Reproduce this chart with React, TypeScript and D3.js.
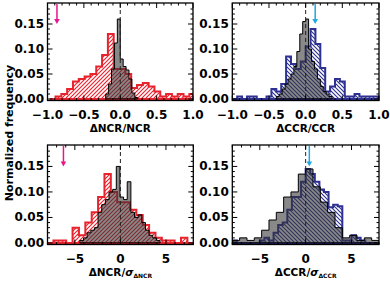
import React, { useEffect, useRef } from "react";
import * as d3 from "d3";

const W = 390;
const H = 281;

// ---- data: normalized frequency per bin ----
// top-left: dNCR/NCR
const ncrRelRedStart = -0.97;
const ncrRelRedWidth = 0.08;
const ncrRelRed = [0, 0.005, 0.01, 0.02, 0.035, 0.04, 0.045, 0.05, 0.065, 0.088, 0.13, 0.06, 0.06, 0.05, 0.022, 0.028, 0.032, 0.025, 0.015, 0.005, 0.01, 0.005, 0.01, 0.005, 0.01];
const ncrRelGrayStart = -0.2;
const ncrRelGrayWidth = 0.04;
const ncrRelGray = [0.01, 0.03, 0.06, 0.112, 0.16, 0.08, 0.065, 0.058, 0.04, 0.012, 0.003];

// top-right: dCCR/CCR
const ccrRelBlueStart = -1;
const ccrRelBlueWidth = 1 / 15;
const ccrRelBlue = [0, 0.005, 0, 0.005, 0.005, 0, 0, 0.005, 0.02, 0.015, 0.03, 0.085, 0.07, 0.06, 0.075, 0.105, 0.14, 0.11, 0.062, 0.015, 0.025, 0.04, 0.035, 0.005, 0.005, 0.01, 0.005, 0.005, 0.005, 0.005];
const ccrRelGrayStart = -0.4;
const ccrRelGrayWidth = 0.04;
const ccrRelGray = [0.005, 0.01, 0.02, 0.03, 0.04, 0.05, 0.065, 0.095, 0.13, 0.155, 0.16, 0.1, 0.075, 0.06, 0.04, 0.025, 0.015, 0.01, 0.005];

// bottom-left: dNCR/sigma
const ncrSigRedStart = -8.05;
const ncrSigRedWidth = 0.7;
const ncrSigRed = [0, 0.005, 0.005, 0, 0.03, 0.015, 0.04, 0.06, 0.09, 0.135, 0.1, 0.08, 0.08, 0.065, 0.055, 0.035, 0.02, 0.01, 0.005, 0.005, 0, 0.01, 0];
const ncrSigGrayStart = -4.45;
const ncrSigGrayWidth = 0.4;
const ncrSigGray = [0.005, 0.01, 0.02, 0.025, 0.03, 0.06, 0.075, 0.085, 0.1, 0.105, 0.15, 0.09, 0.085, 0.12, 0.06, 0.05, 0.055, 0.04, 0.025, 0.015, 0.01, 0.005];

// bottom-right: dCCR/sigma
const ccrSigBlueStart = -8;
const ccrSigBlueWidth = 0.5;
const ccrSigBlue = [0.005, 0, 0, 0, 0, 0, 0.005, 0.01, 0.005, 0.02, 0.035, 0.04, 0.065, 0.09, 0.09, 0.12, 0.145, 0.135, 0.12, 0.105, 0.1, 0.07, 0.075, 0.072, 0.005, 0.005, 0.015, 0.01, 0.005, 0, 0, 0];
const ccrSigGrayStart = -8;
const ccrSigGrayWidth = 0.8;
const ccrSigGray = [0.005, 0.01, 0.005, 0.01, 0.025, 0.045, 0.06, 0.09, 0.1, 0.135, 0.145, 0.11, 0.08, 0.06, 0.03, 0.01, 0.015, 0.005, 0.01, 0.005];

// arrows (x position of marker)
const arrowX = [-0.87, 0.13, -6.25, 0.4];

const relTicks = [-1, -0.5, 0, 0.5, 1];
const sigTicks = [-5, 0, 5];
const yTicks = [0, 0.05, 0.1, 0.15];

const RED = "#e8232d";
const BLUE = "#2e3192";
const MAGENTA = "#e8168c";
const CYAN = "#1fa9e1";
const FONT = "'DejaVu Sans', sans-serif";

const bins = (start: number, width: number, vals: number[]) => {
  const pts = vals.map((v, i) => [start + i * width, v] as [number, number]);
  pts.push([start + vals.length * width, vals[vals.length - 1]]);
  return pts;
};

const panels = [
  { left: 47.5, right: 193, top: 3, bottom: 100.5, xDomain: [-1, 1], ticks: relTicks, minor: 0.1, fmt: d3.format(".1f"),
    color: RED, col: bins(ncrRelRedStart, ncrRelRedWidth, ncrRelRed), gray: bins(ncrRelGrayStart, ncrRelGrayWidth, ncrRelGray),
    arrow: arrowX[0], arrowColor: MAGENTA, title: "ΔNCR/NCR", sub: null },
  { left: 232.3, right: 379, top: 3, bottom: 100.5, xDomain: [-1, 1], ticks: relTicks, minor: 0.1, fmt: d3.format(".1f"),
    color: BLUE, col: bins(ccrRelBlueStart, ccrRelBlueWidth, ccrRelBlue), gray: bins(ccrRelGrayStart, ccrRelGrayWidth, ccrRelGray),
    arrow: arrowX[1], arrowColor: CYAN, title: "ΔCCR/CCR", sub: null },
  { left: 47.5, right: 193.3, top: 145, bottom: 244.5, xDomain: [-8, 8], ticks: sigTicks, minor: 1, fmt: d3.format("d"),
    color: RED, col: bins(ncrSigRedStart, ncrSigRedWidth, ncrSigRed), gray: bins(ncrSigGrayStart, ncrSigGrayWidth, ncrSigGray),
    arrow: arrowX[2], arrowColor: MAGENTA, title: "ΔNCR/", sub: "ΔNCR" },
  { left: 232.3, right: 379, top: 145, bottom: 244.5, xDomain: [-8, 8], ticks: sigTicks, minor: 1, fmt: d3.format("d"),
    color: BLUE, col: bins(ccrSigBlueStart, ccrSigBlueWidth, ccrSigBlue), gray: bins(ccrSigGrayStart, ccrSigGrayWidth, ccrSigGray),
    arrow: arrowX[3], arrowColor: CYAN, title: "ΔCCR/", sub: "ΔCCR" },
];

export default function App() {
  const ref = useRef<SVGSVGElement>(null);

  useEffect(() => {
    const svg = d3.select(ref.current);
    svg.selectAll("*").remove();
    const defs = svg.append("defs");

    // hatch patterns
    [["hatch-red", RED, "/"], ["hatch-blue", BLUE, "\\"]].forEach(([id, c, dir]) => {
      const pat = defs.append("pattern").attr("id", id).attr("patternUnits", "userSpaceOnUse")
        .attr("width", 4).attr("height", 4);
      pat.append("path")
        .attr("d", dir === "/" ? "M-1,1 l2,-2 M0,4 l4,-4 M3,5 l2,-2" : "M-1,3 l2,2 M0,0 l4,4 M3,-1 l2,2")
        .attr("stroke", c).attr("stroke-width", 1.15).attr("fill", "none");
    });

    panels.forEach((p, i) => {
      const x = d3.scaleLinear().domain(p.xDomain).range([p.left, p.right]);
      const y = d3.scaleLinear().domain([-0.003, 0.192]).range([p.bottom, p.top]);
      const g = svg.append("g");

      defs.append("clipPath").attr("id", `clip-${i}`).append("rect")
        .attr("x", p.left).attr("y", p.top).attr("width", p.right - p.left).attr("height", p.bottom - p.top);
      const hg = g.append("g").attr("clip-path", `url(#clip-${i})`);

      const area = d3.area<[number, number]>()
        .x((d) => x(d[0])).y0(y(0)).y1((d) => y(d[1])).curve(d3.curveStepAfter);

      // hatched colored histogram
      hg.append("path").attr("d", area(p.col))
        .attr("fill", p.color === RED ? "url(#hatch-red)" : "url(#hatch-blue)")
        .attr("stroke", p.color).attr("stroke-width", 2);

      // gray histogram on top, semi transparent
      hg.append("path").attr("d", area(p.gray))
        .attr("fill", "#333").attr("fill-opacity", 0.58)
        .attr("stroke", "#000").attr("stroke-width", 1);

      // dashed zero line
      hg.append("line").attr("x1", x(0)).attr("x2", x(0)).attr("y1", p.top).attr("y2", p.bottom)
        .attr("stroke", "#222").attr("stroke-width", 1).attr("stroke-dasharray", "4,3");

      // arrow
      const ax = x(p.arrow);
      const yTail = y(0.19);
      const yTip = y(0.15);
      g.append("line").attr("x1", ax).attr("x2", ax).attr("y1", yTail).attr("y2", yTip - 4)
        .attr("stroke", p.arrowColor).attr("stroke-width", 1.5);
      g.append("path").attr("d", `M${ax - 2.8},${yTip - 5} L${ax + 2.8},${yTip - 5} L${ax},${yTip} Z`)
        .attr("fill", p.arrowColor);

      // box
      g.append("rect").attr("x", p.left).attr("y", p.top).attr("width", p.right - p.left).attr("height", p.bottom - p.top)
        .attr("fill", "none").attr("stroke", "#000").attr("stroke-width", 1.3);

      // ticks
      const tk = g.append("g").attr("stroke", "#000").attr("stroke-width", 1);
      const xMinor = d3.range(p.xDomain[0], p.xDomain[1] + 1e-9, p.minor);
      xMinor.forEach((v) => {
        const major = p.ticks.some((t) => Math.abs(t - v) < 1e-6);
        const len = major ? 5 : 2.5;
        tk.append("line").attr("x1", x(v)).attr("x2", x(v)).attr("y1", p.bottom).attr("y2", p.bottom - len);
        tk.append("line").attr("x1", x(v)).attr("x2", x(v)).attr("y1", p.top).attr("y2", p.top + len);
      });
      d3.range(0, 0.19, 0.01).forEach((v) => {
        const major = yTicks.some((t) => Math.abs(t - v) < 1e-6);
        const len = major ? 5 : 2.5;
        tk.append("line").attr("y1", y(v)).attr("y2", y(v)).attr("x1", p.left).attr("x2", p.left + len);
        tk.append("line").attr("y1", y(v)).attr("y2", y(v)).attr("x1", p.right).attr("x2", p.right - len);
      });

      // tick labels
      const lab = g.append("g").attr("font-family", FONT).attr("font-weight", "bold").attr("font-size", 12).attr("fill", "#000");
      p.ticks.forEach((t) => {
        lab.append("text").attr("x", x(t)).attr("y", p.bottom + 18.5).attr("text-anchor", "middle").text(p.fmt(t));
      });
      yTicks.forEach((t) => {
        lab.append("text").attr("x", p.left - 3.5).attr("y", y(t) + 4).attr("text-anchor", "end").text(d3.format(".2f")(t));
      });

      // axis title
      const cx = (p.left + p.right) / 2;
      const tt = g.append("text").attr("x", cx).attr("y", p.bottom + 31.4)
        .attr("text-anchor", "middle").attr("font-family", FONT).attr("font-weight", "bold").attr("font-size", 10.5)
        .text(p.title);
      if (p.sub) {
        tt.append("tspan").attr("font-style", "italic").text("σ");
        tt.append("tspan").attr("font-size", 6).attr("dy", 2.5).text(p.sub);
      }
    });

    svg.append("text")
      .attr("transform", "translate(9,133) rotate(-90)")
      .attr("text-anchor", "middle").attr("dy", "0.35em")
      .attr("font-family", FONT).attr("font-weight", "bold").attr("font-size", 11)
      .text("Normalized frequency");
  }, []);

  return (
    <svg ref={ref} width={W} height={H} style={{ position: "absolute", left: 0, top: 0, background: "#fff" }} />
  );
}
